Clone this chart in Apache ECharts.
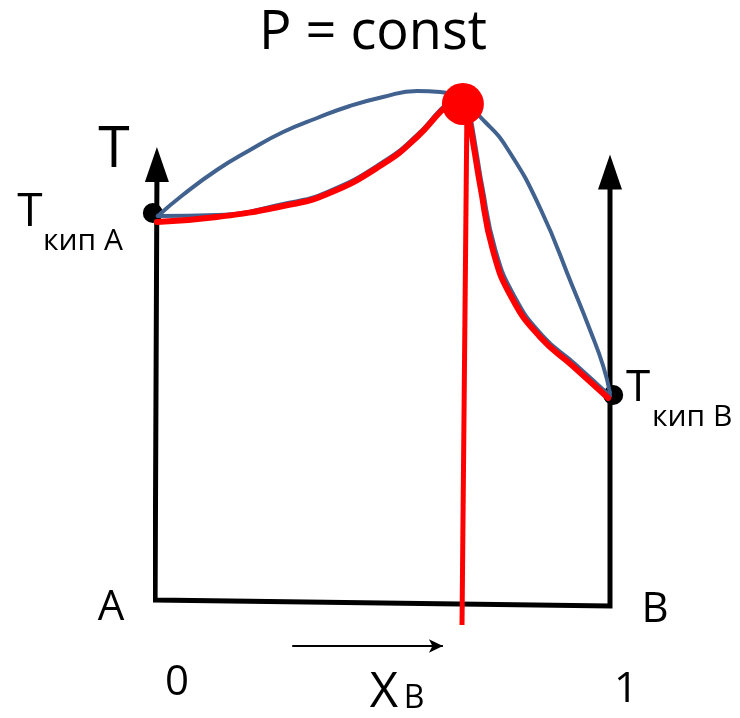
<!DOCTYPE html>
<html><head><meta charset="utf-8">
<script src="https://cdn.jsdelivr.net/npm/echarts@6/dist/echarts.min.js"></script>
<style>html,body{margin:0;padding:0;background:#fff}#c{width:740px;height:718px}</style>
</head><body><div id="c"></div>
<script>
// Data (x = mole fraction of B, y = temperature in arbitrary units)
const vaporCurve = [[0.004,76.8],[0.059,81],[0.134,86],[0.207,90],[0.280,93.6],[0.355,96.4],[0.427,98.8],[0.500,100.6],[0.575,101.8],[0.626,101.6],[0.676,99.4],[0.725,95.6],[0.773,90.4],[0.846,78.4],[0.918,62.6],[0.956,54],[0.985,46.8],[1.0,41.4]];
const liquidLeftBlue = [[0.004,76.8],[0.134,77.0],[0.280,79.2],[0.377,81.6],[0.500,87.6],[0.575,93],[0.626,98],[0.652,100.2]];
const liquidLeftRed = [[0.002,75.6],[0.134,76.6],[0.280,78.8],[0.377,81.2],[0.500,87.2],[0.575,92.6],[0.626,97.6],[0.652,99.8]];
const liquidRightBlue = [[0.689,98.4],[0.696,95],[0.707,89],[0.718,83],[0.747,70.2],[0.789,60.8],[0.850,53],[0.923,47.2],[1.0,40.8]];
const liquidRightRed = [[0.685,98.4],[0.692,95],[0.703,89],[0.714,83],[0.742,70],[0.784,60.4],[0.846,52.6],[0.918,46.8],[0.996,40.4]];
const azeotrope = [[0.676,99.2]];
const azeotropeLine = [[0.685,99.2],[0.674,-5]];
const boilingPoints = [[-0.007,77.4],[1.007,41]];
const frame = [[0.002,83.6],[-0.002,0],[1.0,-1.2],[1.0,82.2]];
const arrowHeads = [[0.002,87.1],[1.0,85.6]];
const xArrow = [[0.30,-9.2],[0.632,-9.2]];

const BLUE = '#41628F', RED = '#FF0000';
const FONT = 'Open Sans';
function txt(text, x, y, size, align) {
  return {type:'text', x:x, y:y, style:{text:text, fontSize:size, fontFamily:FONT, fill:'#000', align:align||'center', verticalAlign:'middle'}};
}
function curve(data, color, width, z) {
  return {type:'line', data:data, symbol:'none', smooth:0.5, clip:false, lineStyle:{color:color, width:width, cap:'round'}, z:z};
}
const chart = echarts.init(document.getElementById('c'));
chart.setOption({
  animation:false,
  grid:{left:156, right:130, top:0, bottom:18},
  xAxis:{type:'value', min:0, max:1, show:false},
  yAxis:{type:'value', min:-20, max:120, show:false},
  series:[
    {type:'line', data:frame, symbol:'none', clip:false, lineStyle:{color:'#000', width:5, join:'miter'}, z:2},
    {type:'scatter', data:arrowHeads, symbol:'triangle', symbolSize:[24,35], clip:false, itemStyle:{color:'#000', opacity:1}, z:2},
    {type:'scatter', data:boilingPoints, symbol:'circle', symbolSize:20, clip:false, itemStyle:{color:'#000', opacity:1}, z:2},
    curve(vaporCurve, BLUE, 4, 3),
    curve(liquidLeftBlue, BLUE, 4, 3),
    curve(liquidRightBlue, BLUE, 4, 3),
    curve(liquidLeftRed, RED, 6, 4),
    curve(liquidRightRed, RED, 6, 4),
    {type:'line', data:azeotropeLine, symbol:'none', clip:false, lineStyle:{color:RED, width:5}, z:5},
    {type:'scatter', data:azeotrope, symbol:'circle', symbolSize:42, clip:false, itemStyle:{color:RED, opacity:1}, z:6},
    {type:'line', data:[], symbol:'none', z:2,
      markLine:{silent:true, symbol:['none','arrow'], symbolSize:[10,14], label:{show:false},
        lineStyle:{color:'#000', width:2, type:'solid'},
        data:[[{coord:xArrow[0]},{coord:xArrow[1]}]]}}
  ],
  graphic:[
    txt('P = const', 373, 34, 54),
    txt('T', 114, 151, 57),
    txt('T', 30, 213, 46),
    txt('кип А', 43, 241, 30, 'left'),
    txt('T', 638, 388, 44),
    txt('кип В', 652, 417, 30, 'left'),
    txt('A', 111, 608, 42),
    txt('B', 655, 610, 42),
    txt('0', 177, 683, 42),
    txt('1', 626, 690, 42),
    txt('X', 384, 693, 49),
    txt('B', 414, 699, 32)
  ]
});
</script></body></html>
